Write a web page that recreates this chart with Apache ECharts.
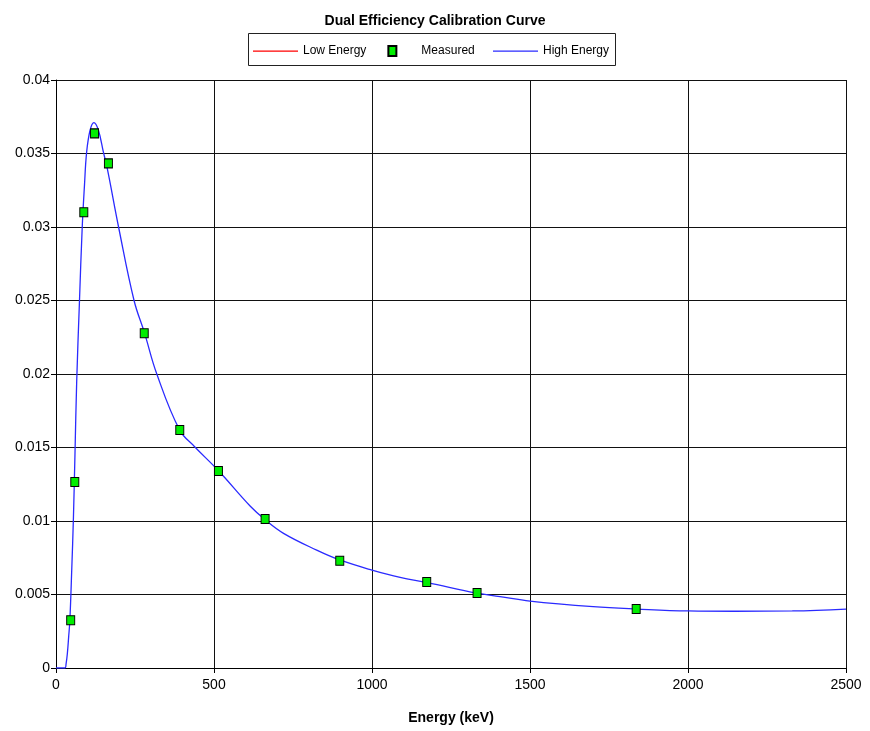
<!DOCTYPE html>
<html><head><meta charset="utf-8">
<script src="https://cdn.jsdelivr.net/npm/echarts@6/dist/echarts.min.js"></script>
<style>html,body{margin:0;padding:0;background:#fff}#c{width:870px;height:731px}</style>
</head><body><div id="c"></div>
<script>
const FONT = "Liberation Sans";
const xTicks = [0, 500, 1000, 1500, 2000, 2500];
const yTicks = [0, 0.005, 0.01, 0.015, 0.02, 0.025, 0.03, 0.035, 0.04];
const seriesNames = ['Low Energy', 'Measured', 'High Energy'];
const measuredEnergy = [46.5, 59.5, 88, 122, 165.9, 279.2, 391.7, 514, 661.7, 898, 1173.2, 1332.5, 1836];
const measuredEff = [0.00325, 0.01265, 0.0310, 0.03637, 0.03433, 0.02277, 0.01619, 0.0134, 0.01014, 0.0073, 0.00585, 0.0051, 0.00401];
const lowEnergyCurve = [];
const highEnergyX = [0, 28, 32, 36, 40, 44, 50, 55, 60, 65.5, 74, 83, 90, 97, 108, 120, 134, 150, 163, 198, 247, 280, 319, 391, 438, 515, 615, 661, 720, 825, 898, 1000, 1089, 1175, 1332, 1405, 1500, 1700, 1837, 2000, 2150, 2330, 2500];
const highEnergyY = [0, 0, 0.0003, 0.001, 0.0021, 0.0033, 0.0068, 0.0101, 0.0145, 0.0195, 0.0248, 0.0300, 0.0328, 0.0351, 0.0366, 0.0371, 0.0366, 0.0351, 0.0339, 0.0300, 0.0250, 0.0228, 0.0200, 0.0162, 0.01507, 0.0134, 0.0110, 0.0101, 0.00916, 0.00802, 0.00735, 0.00666, 0.00616, 0.00581, 0.00509, 0.00486, 0.00455, 0.00417, 0.00401, 0.00388, 0.00386, 0.00388, 0.00401];

const LINE_ICON = 'path://M0,0M45,12M0,5.4h45v1.3h-45z';
const SQUARE_ICON = 'path://M0,0M45,12M17,1h8v10h-8z';
const legendCommon = {
  padding: 0, borderWidth: 0,
  itemWidth: 45, itemHeight: 12, itemGap: 4,
  symbolKeepAspect: false,
  textStyle: {fontFamily: FONT, fontSize: 12, color: '#000'}
};

const chart = echarts.init(document.getElementById('c'), null, {renderer: 'canvas'});
chart.setOption({
  animation: false,
  backgroundColor: '#fff',
  title: {
    text: 'Dual Efficiency Calibration Curve',
    left: 'center', top: 9,
    textStyle: {fontFamily: FONT, fontSize: 14, fontWeight: 'bold', color: '#000'}
  },
  graphic: [{
    type: 'rect', left: 246, top: 31, silent: true,
    shape: {width: 367, height: 32},
    style: {fill: 'none', stroke: '#222', lineWidth: 1}
  }],
  legend: [
    Object.assign({}, legendCommon, {
      left: 253, top: 44,
      data: [
        {name: seriesNames[0], icon: LINE_ICON},
        {name: seriesNames[1], icon: SQUARE_ICON}
      ]
    }),
    Object.assign({}, legendCommon, {
      left: 493, top: 45,
      data: [{name: seriesNames[2], icon: LINE_ICON}]
    })
  ],
  grid: {left: 56, right: 24, top: 80, bottom: 63, containLabel: false},
  xAxis: {
    type: 'value', min: xTicks[0], max: xTicks[xTicks.length - 1], interval: xTicks[1] - xTicks[0],
    name: 'Energy (keV)', nameLocation: 'middle', nameGap: 43,
    nameTextStyle: {fontFamily: FONT, fontSize: 14, fontWeight: 'bold', color: '#000'},
    axisLine: {show: true, lineStyle: {color: '#000', width: 1}},
    axisTick: {show: true, inside: false, length: 5, lineStyle: {color: '#000'}},
    axisLabel: {fontFamily: FONT, fontSize: 14, color: '#000', margin: 10, formatter: v => String(v)},
    splitLine: {show: true, lineStyle: {color: '#111', width: 1}}
  },
  yAxis: {
    type: 'value', min: yTicks[0], max: yTicks[yTicks.length - 1], interval: yTicks[1] - yTicks[0],
    axisLine: {show: true, lineStyle: {color: '#000', width: 1}},
    axisTick: {show: true, inside: false, length: 5, lineStyle: {color: '#000'}},
    axisLabel: {fontFamily: FONT, fontSize: 14, color: '#000', margin: 6},
    splitLine: {show: true, lineStyle: {color: '#111', width: 1}}
  },
  series: [
    {
      name: seriesNames[0], type: 'line', symbol: 'none',
      lineStyle: {color: '#ff0000', width: 1.3}, itemStyle: {color: '#ff0000'},
      data: lowEnergyCurve
    },
    {
      name: seriesNames[2], type: 'line', symbol: 'none', smooth: 0.4,
      lineStyle: {color: '#2a2aff', width: 1.3}, itemStyle: {color: '#2a2aff'},
      data: highEnergyX.map((x, i) => [x, highEnergyY[i]]), z: 3
    },
    {
      name: seriesNames[1], type: 'scatter', symbol: 'rect', symbolSize: [8, 9],
      itemStyle: {color: '#00ee00', borderColor: '#000', borderWidth: 1, opacity: 1},
      data: measuredEnergy.map((x, i) => [x, measuredEff[i]]), z: 4
    }
  ]
});
</script></body></html>
